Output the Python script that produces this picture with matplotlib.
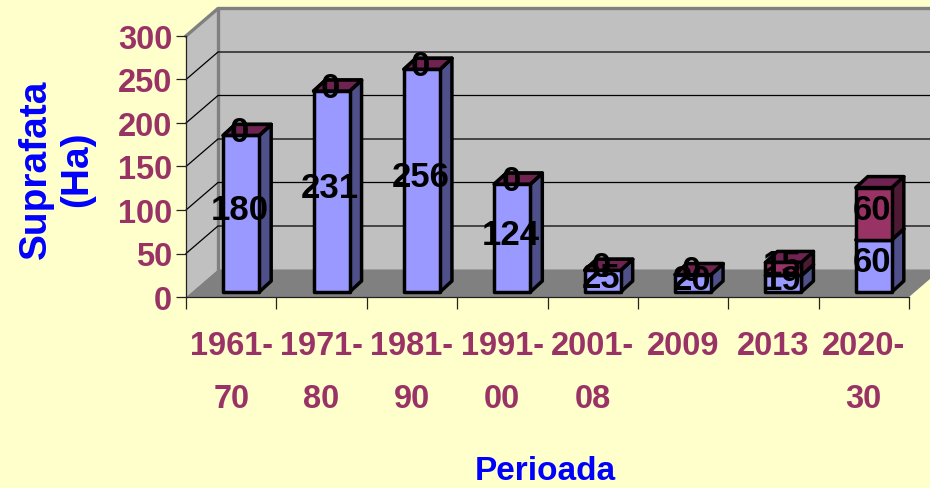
import matplotlib
matplotlib.use("Agg")
import matplotlib.pyplot as plt
from matplotlib.patches import Polygon

periods = ["1961-\n70", "1971-\n80", "1981-\n90", "1991-\n00", "2001-\n08", "2009\n ", "2013\n ", "2020-\n30"]
series_a = [180, 231, 256, 124, 25, 20, 19, 60]
series_b = [0, 0, 0, 0, 0, 0, 15, 60]
y_ticks = [0, 50, 100, 150, 200, 250, 300]

BG = "#FFFFCC"; WALL = "#C0C0C0"; FLOOR = "#808080"; MAROON = "#993366"; BLUE = "#0000FF"
FONT = "Liberation Sans"
W, H = 930, 489
L, R, B, T = 186, 909, 298, 37
fig = plt.figure(figsize=(W/100, H/100), dpi=100, facecolor=BG)
ax = fig.add_axes([L/W, 1-B/H, (R-L)/W, (B-T)/H])
ax.set_xlim(0, 8); ax.set_ylim(0, 300)
ax.patch.set_visible(False)
for s in ["top", "right"]:
    ax.spines[s].set_visible(False)
for s in ["left", "bottom"]:
    ax.spines[s].set_linewidth(0.9); ax.spines[s].set_color("#222222"); ax.spines[s].set_zorder(3)

px = 8/(R-L); py = 300/(B-T)
DX, DY = 32*px, 27.5*py

def poly(pts, fc, ec="none", lw=0, z=1, **kw):
    ax.add_patch(Polygon(pts, closed=True, fc=fc, ec=ec, lw=lw, zorder=z, clip_on=False, joinstyle="round", **kw))

# walls and floor
poly([(0, 0), (DX, DY), (DX, 300+DY), (0, 300)], WALL)
poly([(DX, DY), (8+DX, DY), (8+DX, 300+DY), (DX, 300+DY)], WALL)
poly([(0, 0), (8, 0), (8+DX, DY), (DX, DY)], FLOOR)
ax.plot([0, DX, 8+DX], [300, 300+DY, 300+DY], color="#808080", lw=2.4, clip_on=False, zorder=1.2)
ax.plot([DX, DX], [DY, 300+DY], color="#808080", lw=2.4, clip_on=False, zorder=1.2)
for v in y_ticks[1:-1]:
    ax.plot([0, DX, 8+DX], [v, v+DY, v+DY], color="black", lw=0.9, clip_on=False, zorder=1.3)

# bars
BW = 36*px; SX = 12*px; SY = 11*py; X0 = 10*px; Y0 = 5*py
def box(x, y0, y1, front, side, top):
    a, b = x-BW/2, x+BW/2
    kw = dict(ec="black", lw=2.5, z=2)
    poly([(b, y0), (b+SX, y0+SY), (b+SX, y1+SY), (b, y1)], side, **kw)
    poly([(a, y1), (a+SX, y1+SY), (b+SX, y1+SY), (b, y1)], top, **kw)
    if y1 > y0:
        poly([(a, y0), (b, y0), (b, y1), (a, y1)], front, **kw)

labels = []
for i, (u, v) in enumerate(zip(series_a, series_b)):
    x = i+0.5+X0
    box(x, Y0, Y0+u, "#9999FF", "#4F4F8A", "#9999FF")
    box(x, Y0+u, Y0+u+v, MAROON, "#4D1933", "#6E2350")
    labels.append((x, Y0+u/2, u))
    labels.append((x, Y0+u+v/2, v))
for x, y, t in labels:
    ax.text(x-1.5*px, y+4*py, str(t), ha="center", va="center", family=FONT, weight="bold",
            fontsize=25, color="black", zorder=5, clip_on=False)

# axes ticks and labels
ax.set_xticks(range(9)); ax.set_xticklabels([])
ax.tick_params(axis="x", which="major", length=8.5, width=0.9, color="#222222")
ax.set_xticks([i+0.5 for i in range(8)], minor=True)
ax.set_xticklabels(periods, minor=True, family=FONT, weight="bold", fontsize=23.5, color=MAROON, linespacing=1.93)
ax.tick_params(axis="x", which="minor", length=0, pad=23.5)
ax.set_yticks(y_ticks)
ax.set_yticklabels([str(v) for v in y_ticks], family=FONT, weight="bold", fontsize=23.5, color=MAROON)
ax.tick_params(axis="y", length=7, width=0.9, color="#222222", pad=3)

fig.text(545/W, 1-472/H, "Perioada", ha="center", va="center", family=FONT, weight="bold", fontsize=24, color=BLUE)
fig.text(56.5/W, 1-169/H, "Suprafata\n(Ha)", ha="center", va="center", rotation=90, multialignment="center",
         family=FONT, weight="bold", fontsize=28, color=BLUE, linespacing=1.17)
fig.savefig("out.png", dpi=100, facecolor=BG)
